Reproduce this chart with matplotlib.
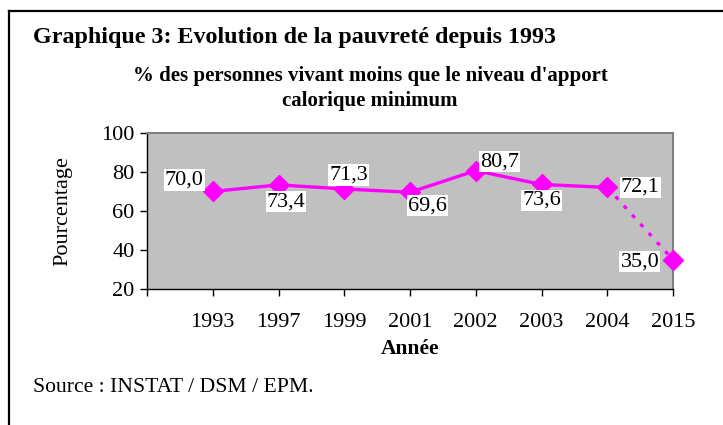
import numpy as np
import matplotlib.pyplot as plt
from matplotlib.lines import Line2D

# Données
annees = ["1993", "1997", "1999", "2001", "2002", "2003", "2004", "2015"]
valeurs = [70.0, 73.4, 71.3, 69.6, 80.7, 73.6, 72.1, 35.0]
etiquettes = ["70,0", "73,4", "71,3", "69,6", "80,7", "73,6", "72,1", "35,0"]
# décalage des étiquettes (points)
decalages = [(-20.5, 8.3), (5.4, -12.2), (3.2, 10), (12.6, -9.6),
             (16.9, 6.5), (0, -11.5), (23.8, 0), (-23.8, -1.4)]

plt.rcParams['font.family'] = ['Liberation Serif', 'DejaVu Serif']
magenta = '#FF00FF'

fig = plt.figure(figsize=(7.23, 4.25), dpi=100)

# cadre (haut et gauche)
fig.add_artist(Line2D([9 / 723, 1], [1 - 11 / 425, 1 - 11 / 425], color='black', lw=1.6))
fig.add_artist(Line2D([9 / 723, 9 / 723], [0, 1 - 11 / 425], color='black', lw=1.6))

fig.text(33 / 723, 1 - 38 / 425, "Graphique 3: Evolution de la pauvreté depuis 1993",
         fontsize=17.3, fontweight='bold', va='center', ha='left')
fig.text(370 / 723, 1 - 76 / 425, "% des personnes vivant moins que le niveau d'apport",
         fontsize=15, fontweight='bold', va='center', ha='center')
fig.text(370 / 723, 1 - 101 / 425, "calorique minimum",
         fontsize=15, fontweight='bold', va='center', ha='center')
fig.text(33 / 723, 1 - 387 / 425, "Source : INSTAT / DSM / EPM.",
         fontsize=15.6, va='center', ha='left')

ax = fig.add_axes([147 / 723, 1 - 289 / 425, (673 - 147) / 723, (289 - 133) / 425])
ax.set_facecolor('#C0C0C0')
for s in ax.spines.values():
    s.set_color('#808080')
    s.set_linewidth(1.5)
ax.spines['left'].set_color('black')
ax.spines['left'].set_linewidth(1)
ax.spines['bottom'].set_color('black')
ax.spines['bottom'].set_linewidth(1)

x = np.arange(1, len(annees) + 1)
ax.plot(x[:-1], valeurs[:-1], color=magenta, lw=2.4, marker='D', markersize=10.5,
        markerfacecolor=magenta, markeredgecolor=magenta, zorder=3)
ax.plot(x[-2:], valeurs[-2:], color=magenta, lw=2.4, linestyle=(0, (1.2, 2.5)), zorder=2)
ax.plot(x[-1:], valeurs[-1:], color=magenta, marker='D', markersize=10.5, linestyle='none',
        clip_on=False, zorder=3)

for xi, v, lab, (dx, dy) in zip(x, valeurs, etiquettes, decalages):
    ax.annotate(lab, (xi, v), xytext=(dx, dy), textcoords='offset points',
                ha='center', va='center', fontsize=16,
                bbox=dict(boxstyle='square,pad=0.05', fc='white', ec='none'), zorder=4,
                annotation_clip=False)

ax.set_xlim(0, len(annees))
ax.set_ylim(20, 100)
ax.set_yticks([20, 40, 60, 80, 100])
ax.set_xticks(np.arange(0, len(annees) + 1))
ax.set_xticklabels([""] + annees)
ax.tick_params(axis='both', direction='out', length=5, width=1, labelsize=16, colors='black')
ax.tick_params(axis='x', pad=12)
ax.tick_params(axis='y', pad=4)
ax.set_xlabel("Année", fontsize=15.5, fontweight='bold', labelpad=5)
ax.set_ylabel("Pourcentage", fontsize=16, labelpad=21)

fig.savefig("out.png", dpi=100)
